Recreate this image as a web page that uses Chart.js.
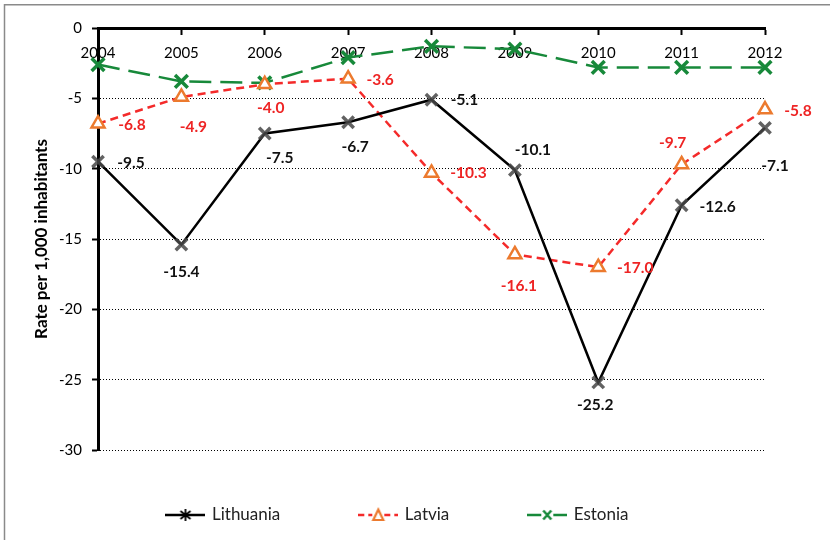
<!DOCTYPE html>
<html><head><meta charset="utf-8">
<script src="https://cdn.jsdelivr.net/npm/chart.js@4.4.1/dist/chart.umd.min.js"></script>
<style>html,body{margin:0;padding:0;background:#fff}#wrap{width:830px;height:540px}</style>
</head><body><div id="wrap"><canvas id="c" width="830" height="540"></canvas></div>
<script>
// ---- data ----
const years = ['2004','2005','2006','2007','2008','2009','2010','2011','2012'];
const lithuania = [-9.5, -15.4, -7.5, -6.7, -5.1, -10.1, -25.2, -12.6, -7.1];
const latvia    = [-6.8, -4.9, -4.0, -3.6, -10.3, -16.1, -17.0, -9.7, -5.8];
const estonia   = [-2.6, -3.8, -3.9, -2.1, -1.3, -1.5, -2.8, -2.8, -2.8];
const seriesNames = ['Lithuania', 'Latvia', 'Estonia'];
const yMin = -30, yMax = 0, yStep = 5;

// ---- label placement (pixel offsets from each point) ----
const labelOffsets = [
  [[33,1],[0,27],[15,24],[7,25],[33,0],[18,-20],[-3,23],[36,2],[10,38]],
  [[34,1],[12,30],[6,24],[32,1],[37,0],[4,32],[37,1],[-9,-21],[33,1]]
];
const labelColors = ['#111111', '#ee2424'];

const C_LT = '#000000', C_LV = '#f42a2a', C_LVM = '#ec7a2e', C_EE = '#17893a';

function sample(kind) {
  const c = document.createElement('canvas');
  c.width = 40; c.height = 18;
  const g = c.getContext('2d');
  g.lineWidth = 2.5;
  if (kind === 0) {
    g.strokeStyle = C_LT; g.beginPath(); g.moveTo(0,9); g.lineTo(40,9); g.stroke();
    g.lineWidth = 1.8; g.beginPath();
    g.moveTo(20,3); g.lineTo(20,15);
    g.moveTo(15,5); g.lineTo(25,13); g.moveTo(25,5); g.lineTo(15,13); g.stroke();
  } else if (kind === 1) {
    g.strokeStyle = C_LV; g.setLineDash([6,4]); g.beginPath();
    g.moveTo(0,9); g.lineTo(14,9); g.moveTo(26,9); g.lineTo(40,9); g.stroke();
    g.setLineDash([]); g.strokeStyle = C_LVM; g.lineWidth = 2.2;
    g.beginPath(); g.moveTo(20,3.5); g.lineTo(25,14); g.lineTo(15,14); g.closePath(); g.stroke();
  } else {
    g.strokeStyle = C_EE; g.beginPath();
    g.moveTo(0,9); g.lineTo(14,9); g.moveTo(26,9); g.lineTo(40,9); g.stroke();
    g.lineWidth = 2.5; g.beginPath();
    g.moveTo(16,4.5); g.lineTo(24,13.5); g.moveTo(24,4.5); g.lineTo(16,13.5); g.stroke();
  }
  return c;
}

const framePlugin = {
  id: 'frame',
  beforeDraw(chart) {
    const ctx = chart.ctx;
    ctx.save();
    ctx.fillStyle = '#fff'; ctx.fillRect(0,0,chart.width,chart.height);
    ctx.strokeStyle = '#8a8a8a'; ctx.lineWidth = 1.5;
    ctx.beginPath(); ctx.moveTo(4.5, 540); ctx.lineTo(4.5, 4.75); ctx.lineTo(830, 4.75); ctx.stroke();
    ctx.restore();
  }
};

const legendShift = {
  id: 'legendShift',
  afterLayout(chart) {
    const lg = chart.legend;
    const P = lg.options.labels.padding;
    const dy = (lg.top + P + 17/2) - 515;
    lg.top -= dy;
  }
};

const valueLabels = {
  id: 'valueLabels',
  afterDatasetsDraw(chart) {
    const ctx = chart.ctx;
    ctx.save();
    ctx.font = 'bold 15.5px Lato';
    ctx.textAlign = 'center';
    ctx.textBaseline = 'middle';
    [0,1].forEach(di => {
      const meta = chart.getDatasetMeta(di);
      const vals = chart.data.datasets[di].data;
      meta.data.forEach((pt, j) => {
        const o = labelOffsets[di][j];
        ctx.fillStyle = labelColors[di];
        ctx.fillText(vals[j].toFixed(1), pt.x + o[0], pt.y + o[1]);
      });
    });
    ctx.restore();
  }
};

function build() {
  Chart.defaults.font.family = 'Lato';
  Chart.defaults.color = '#000';
  const samples = [sample(0), sample(1), sample(2)];
  new Chart(document.getElementById('c'), {
    type: 'line',
    data: {
      labels: years,
      datasets: [
        { label: seriesNames[0], data: lithuania, borderColor: C_LT, borderWidth: 2.5,
          pointStyle: 'crossRot', pointRadius: 8, pointBorderWidth: 3.5,
          pointBorderColor: 'rgba(70,70,70,0.85)', pointBackgroundColor: 'rgba(0,0,0,0)', tension: 0, clip: false },
        { label: seriesNames[1], data: latvia, borderColor: C_LV, borderWidth: 2.5, borderDash: [8,5],
          pointStyle: 'triangle', pointRadius: 7.5, pointBorderWidth: 2.5,
          pointBorderColor: C_LVM, pointBackgroundColor: '#fff', tension: 0, clip: false },
        { label: seriesNames[2], data: estonia, borderColor: C_EE, borderWidth: 2.5, borderDash: [22,9],
          pointStyle: 'crossRot', pointRadius: 9, pointBorderWidth: 3.5,
          pointBorderColor: C_EE, pointBackgroundColor: 'rgba(0,0,0,0)', tension: 0, clip: false }
      ]
    },
    options: {
      responsive: false, animation: false, devicePixelRatio: 1,
      layout: { padding: { left: 31, right: 65, top: 28, bottom: 0 } },
      scales: {
        x: {
          type: 'category', position: { y: 0 }, offset: false,
          grid: { drawOnChartArea: false, drawTicks: true, tickLength: 5, tickWidth: 2, tickColor: '#000' },
          border: { display: true, color: '#000', width: 3 },
          ticks: { font: { size: 15 }, color: '#000', padding: 11, maxRotation: 0, autoSkip: false }
        },
        y: {
          min: yMin, max: yMax,
          afterFit(s) { s.width = 67; },
          grid: { color: '#000', lineWidth: 1, tickLength: 6, tickWidth: 2, tickColor: '#000', tickBorderDash: [] },
          border: { display: true, color: '#000', width: 3, dash: [1,2] },
          ticks: { stepSize: yStep, font: { size: 15 }, color: '#000', padding: 10 },
          title: { display: true, text: 'Rate per 1,000 inhabitants', font: { size: 17, weight: 'bold' }, color: '#000', padding: { top: 0, bottom: 0 } }
        }
      },
      plugins: {
        tooltip: { enabled: false },
        legend: {
          position: 'bottom', maxHeight: 90,
          labels: {
            usePointStyle: true, pointStyleWidth: 36, padding: 80,
            font: { size: 17 }, color: '#222',
            generateLabels(chart) {
              return chart.data.datasets.map((ds, i) => ({
                text: ds.label, pointStyle: samples[i], fillStyle: 'transparent',
                strokeStyle: 'transparent', lineWidth: 0, hidden: false, datasetIndex: i, fontColor: '#222'
              }));
            }
          }
        }
      }
    },
    plugins: [framePlugin, legendShift, valueLabels]
  });
}
if (document.fonts && document.fonts.load) {
  Promise.all([document.fonts.load('15px Lato'), document.fonts.load('bold 15px Lato')]).then(build, build);
} else { build(); }
</script>
</body></html>
